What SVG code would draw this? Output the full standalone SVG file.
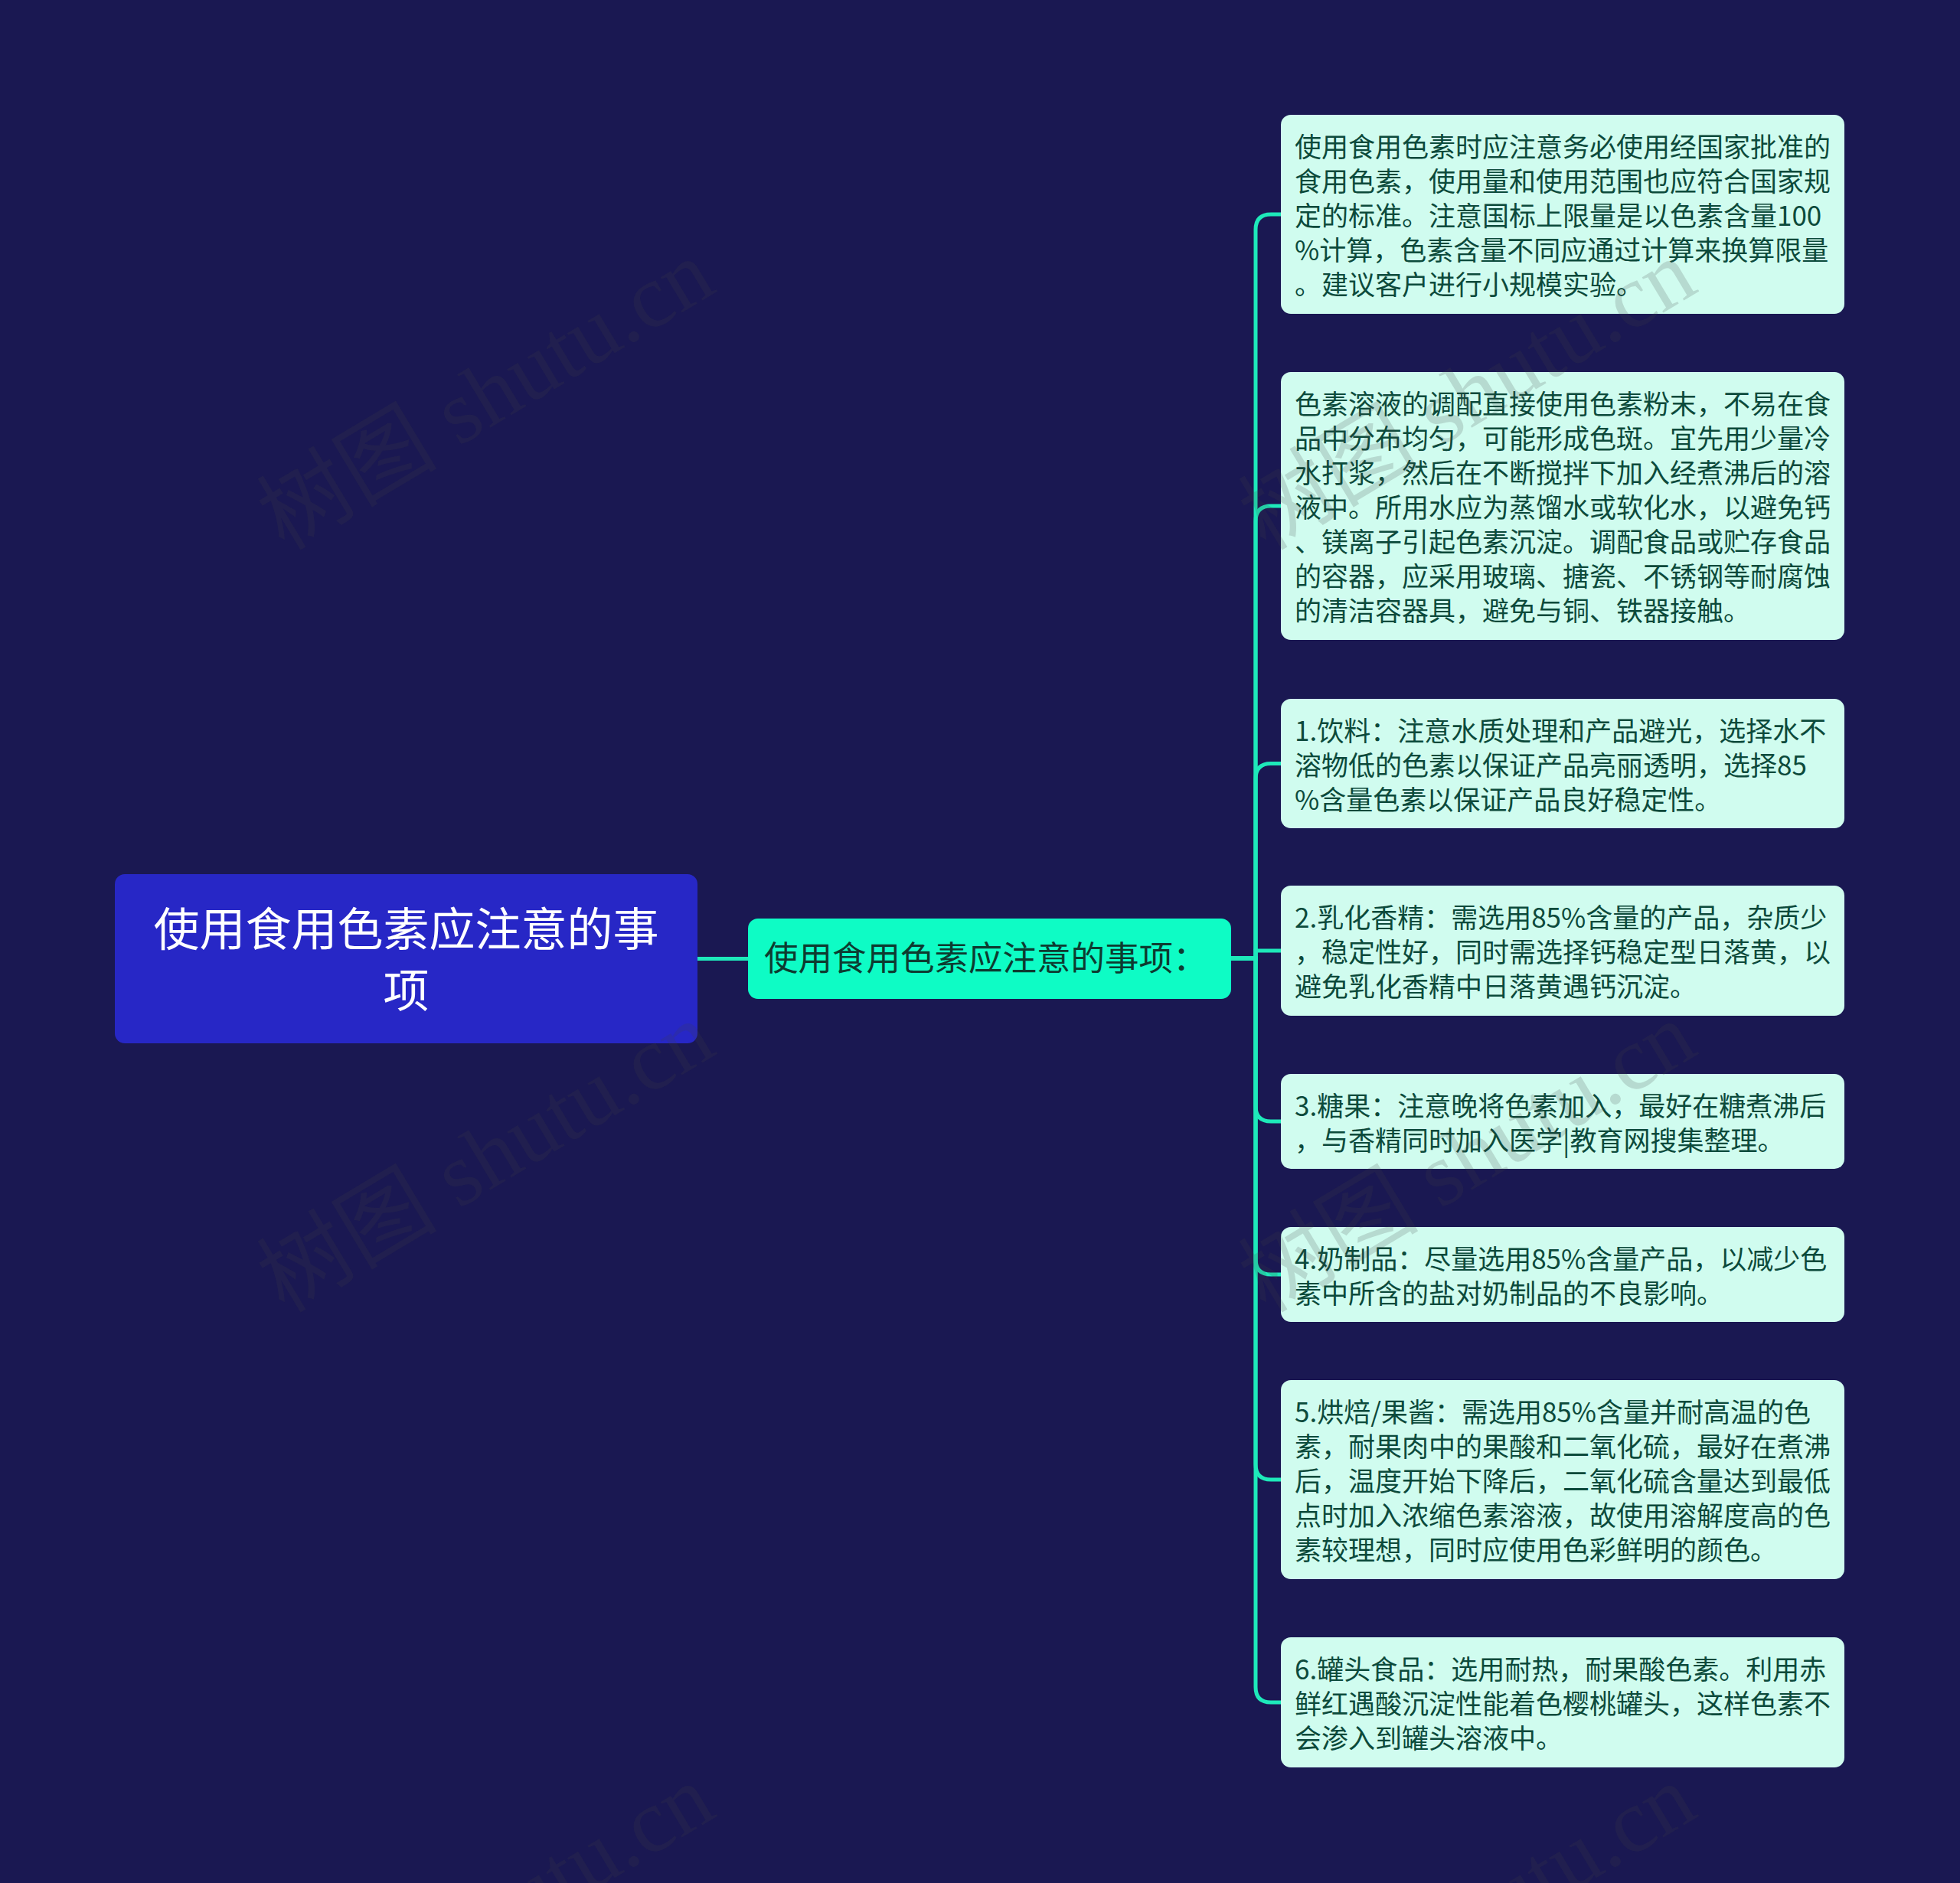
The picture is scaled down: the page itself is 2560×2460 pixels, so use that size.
<svg xmlns="http://www.w3.org/2000/svg" width="2560" height="2460" viewBox="0 0 2560 2460">
<style>
.leaf rect{fill:#d0fcef;}
.leaf text{font-family:"Noto Sans CJK SC","Noto Sans",sans-serif;font-size:35px;fill:#0c4a3b;}
.conn path{fill:none;stroke:#1ee9ba;stroke-width:5;}
.wm{font-family:"Liberation Serif","Noto Sans CJK SC",serif;font-size:118px;fill:#404040;fill-opacity:0.18;}
</style>
<rect x="0" y="0" width="2560" height="2460" fill="#1a1852"/>
<g class="conn" id="connectors">
<path d="M911 1252.5 H977"/>
<path d="M1608 1252 H1640 V300 Q1640 280 1660 280 H1673"/>
<path d="M1608 1252 H1640 V681 Q1640 661 1660 661 H1673"/>
<path d="M1608 1252 H1640 V1017.5 Q1640 997.5 1660 997.5 H1673"/>
<path d="M1608 1252 H1640 V1242 H1673"/>
<path d="M1608 1252 H1640 V1445 Q1640 1465 1660 1465 H1673"/>
<path d="M1608 1252 H1640 V1645 Q1640 1665 1660 1665 H1673"/>
<path d="M1608 1252 H1640 V1913 Q1640 1933 1660 1933 H1673"/>
<path d="M1608 1252 H1640 V2204 Q1640 2224 1660 2224 H1673"/>
</g>
<g id="root">
<rect x="150" y="1142" width="761" height="221" rx="13" fill="#2727c6"/>
<text x="530.5" y="1236" text-anchor="middle" font-family="Noto Sans CJK SC, Noto Sans, sans-serif" font-size="60" fill="#ffffff">使用食用色素应注意的事</text>
<text x="530.5" y="1316" text-anchor="middle" font-family="Noto Sans CJK SC, Noto Sans, sans-serif" font-size="60" fill="#ffffff">项</text>
</g>
<g id="middle">
<rect x="977" y="1200" width="631" height="105" rx="13" fill="#0efcc5"/>
<text x="998" y="1268" font-family="Noto Sans CJK SC, Noto Sans, sans-serif" font-size="44.5" fill="#0d3b30">使用食用色素应注意的事项：</text>
</g>
<g class="leaf" id="leaf1">
<rect x="1673" y="150" width="736" height="260" rx="13"/>
<text x="1691" y="205">使用食用色素时应注意务必使用经国家批准的</text>
<text x="1691" y="250">食用色素，使用量和使用范围也应符合国家规</text>
<text x="1691" y="295">定的标准。注意国标上限量是以色素含量100</text>
<text x="1691" y="340">%计算，色素含量不同应通过计算来换算限量</text>
<text x="1691" y="385">。建议客户进行小规模实验。</text>
</g>
<g class="leaf" id="leaf2">
<rect x="1673" y="486" width="736" height="350" rx="13"/>
<text x="1691" y="541">色素溶液的调配直接使用色素粉末，不易在食</text>
<text x="1691" y="586">品中分布均匀，可能形成色斑。宜先用少量冷</text>
<text x="1691" y="631">水打浆，然后在不断搅拌下加入经煮沸后的溶</text>
<text x="1691" y="676">液中。所用水应为蒸馏水或软化水，以避免钙</text>
<text x="1691" y="721">、镁离子引起色素沉淀。调配食品或贮存食品</text>
<text x="1691" y="766">的容器，应采用玻璃、搪瓷、不锈钢等耐腐蚀</text>
<text x="1691" y="811">的清洁容器具，避免与铜、铁器接触。</text>
</g>
<g class="leaf" id="leaf3">
<rect x="1673" y="913" width="736" height="169" rx="13"/>
<text x="1691" y="968">1.饮料：注意水质处理和产品避光，选择水不</text>
<text x="1691" y="1013">溶物低的色素以保证产品亮丽透明，选择85</text>
<text x="1691" y="1058">%含量色素以保证产品良好稳定性。</text>
</g>
<g class="leaf" id="leaf4">
<rect x="1673" y="1157" width="736" height="170" rx="13"/>
<text x="1691" y="1212">2.乳化香精：需选用85%含量的产品，杂质少</text>
<text x="1691" y="1257">，稳定性好，同时需选择钙稳定型日落黄，以</text>
<text x="1691" y="1302">避免乳化香精中日落黄遇钙沉淀。</text>
</g>
<g class="leaf" id="leaf5">
<rect x="1673" y="1403" width="736" height="124" rx="13"/>
<text x="1691" y="1458">3.糖果：注意晚将色素加入，最好在糖煮沸后</text>
<text x="1691" y="1503">，与香精同时加入医学|教育网搜集整理。</text>
</g>
<g class="leaf" id="leaf6">
<rect x="1673" y="1603" width="736" height="124" rx="13"/>
<text x="1691" y="1658">4.奶制品：尽量选用85%含量产品，以减少色</text>
<text x="1691" y="1703">素中所含的盐对奶制品的不良影响。</text>
</g>
<g class="leaf" id="leaf7">
<rect x="1673" y="1803" width="736" height="260" rx="13"/>
<text x="1691" y="1858">5.烘焙/果酱：需选用85%含量并耐高温的色</text>
<text x="1691" y="1903">素，耐果肉中的果酸和二氧化硫，最好在煮沸</text>
<text x="1691" y="1948">后，温度开始下降后，二氧化硫含量达到最低</text>
<text x="1691" y="1993">点时加入浓缩色素溶液，故使用溶解度高的色</text>
<text x="1691" y="2038">素较理想，同时应使用色彩鲜明的颜色。</text>
</g>
<g class="leaf" id="leaf8">
<rect x="1673" y="2139" width="736" height="170" rx="13"/>
<text x="1691" y="2194">6.罐头食品：选用耐热，耐果酸色素。利用赤</text>
<text x="1691" y="2239">鲜红遇酸沉淀性能着色樱桃罐头，这样色素不</text>
<text x="1691" y="2284">会渗入到罐头溶液中。</text>
</g>
<g id="watermarks">
<text class="wm" text-anchor="middle" transform="translate(655 550) rotate(-31)">树图 shutu.cn</text>
<text class="wm" text-anchor="middle" transform="translate(1937 550) rotate(-31)">树图 shutu.cn</text>
<text class="wm" text-anchor="middle" transform="translate(655 1546) rotate(-31)">树图 shutu.cn</text>
<text class="wm" text-anchor="middle" transform="translate(1937 1546) rotate(-31)">树图 shutu.cn</text>
<text class="wm" text-anchor="middle" transform="translate(655 2542) rotate(-31)">树图 shutu.cn</text>
<text class="wm" text-anchor="middle" transform="translate(1937 2542) rotate(-31)">树图 shutu.cn</text>
</g>
</svg>
